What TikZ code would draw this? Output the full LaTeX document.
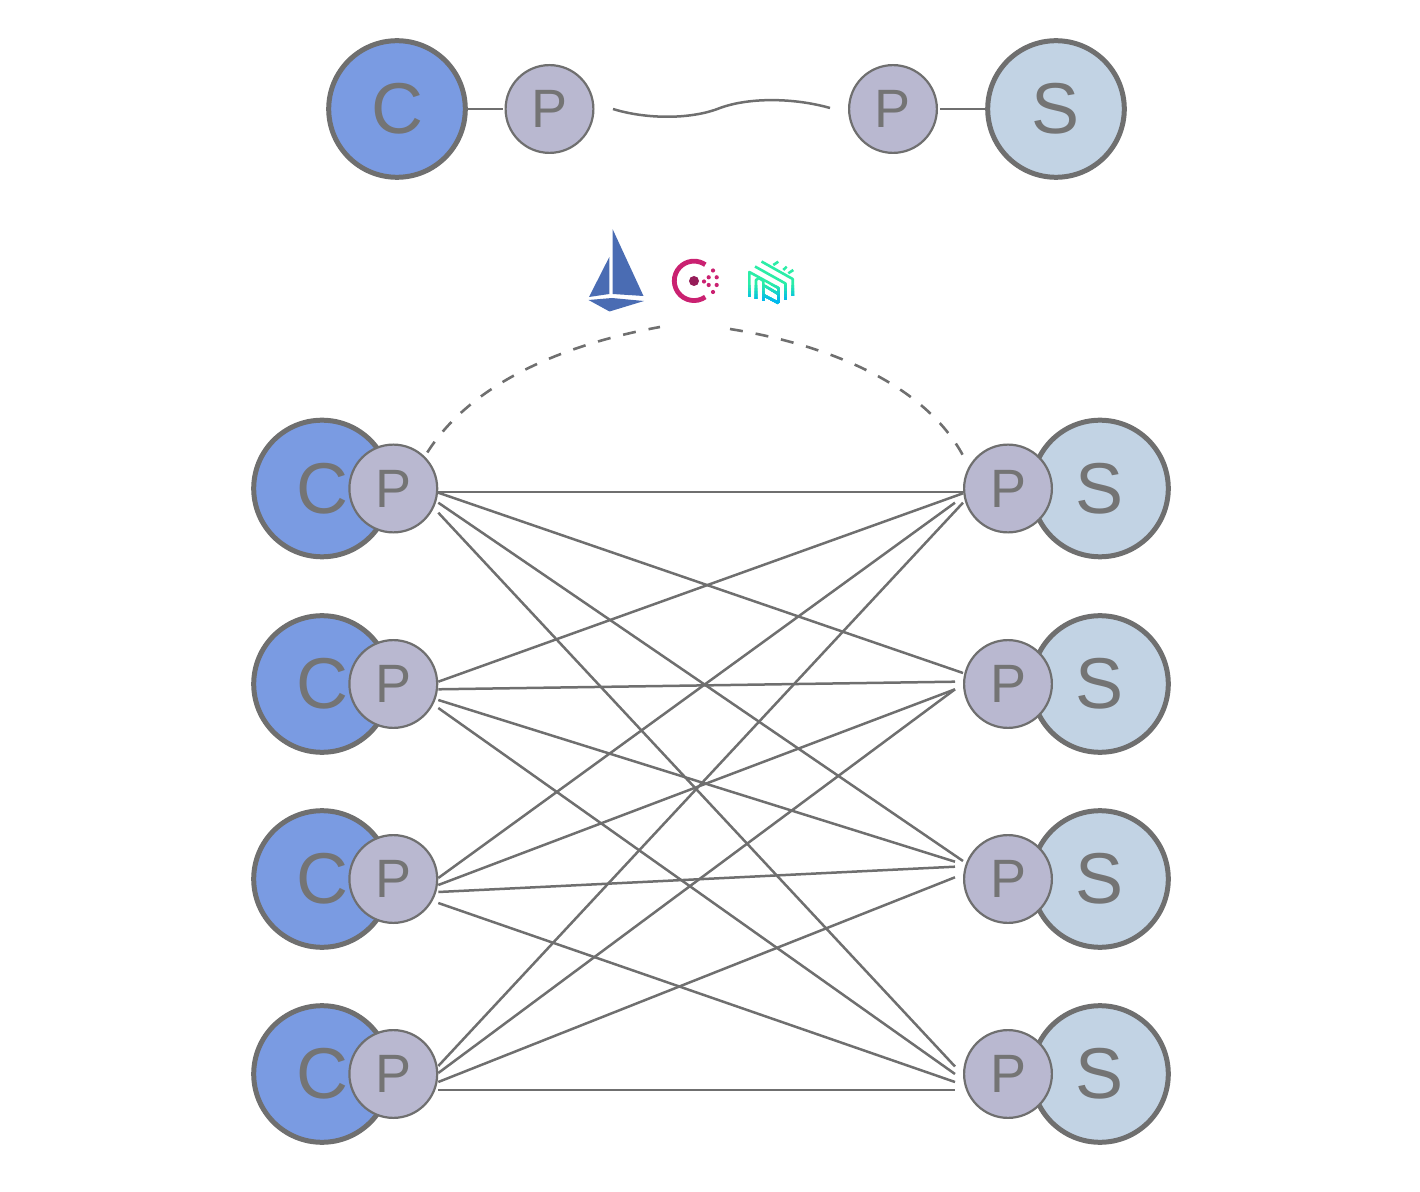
\documentclass[tikz,border=0pt]{standalone}
\usepackage{fontspec}
\setmainfont{Liberation Sans}
\definecolor{trazo}{HTML}{6F6F6F}
\definecolor{texto}{HTML}{747474}
\definecolor{azulc}{HTML}{7A9BE2}
\definecolor{azuls}{HTML}{C2D3E4}
\definecolor{lila}{HTML}{B9B8D0}
\definecolor{vela}{HTML}{4A6CB3}
\definecolor{consula}{HTML}{CA2171}
\definecolor{consulb}{HTML}{961D59}
\definecolor{verdeL}{HTML}{2BEDA7}
\definecolor{azulL}{HTML}{00B8F0}
\newcommand{\linkerdlogo}{%
  \draw (761.5,261.5) -- (792.7,279) -- (792.7,296);
  \draw (755,266.5) -- (785.5,283.5) -- (785.5,300);
  \draw (749.3,297) -- (749.3,272) -- (778.5,288) -- (778.5,303);
  \draw (756,299) -- (756,280) -- (759,278) -- (763.3,281) -- (763.3,301);
  \draw (763.3,285) -- (778.5,294);
  \draw (763.3,295) -- (778.5,303);
  \draw (773.3,265) -- (778.3,261.7);
  \draw (783.3,270) -- (786.7,266.7);
  \draw (788.3,273.3) -- (793.3,270);
}
\begin{document}
\begin{tikzpicture}[
    x=0.5pt, y=-0.5pt,
    cliente/.style={circle, draw=trazo, line width=2.5pt, fill=azulc, minimum size=68.3pt, inner sep=0pt,
      text=texto, font=\fontsize{36}{36}\selectfont},
    servidor/.style={cliente, fill=azuls},
    proxy/.style={circle, draw=trazo, line width=1.1pt, fill=lila, minimum size=43.9pt, inner sep=0pt,
      text=texto, font=\fontsize{27}{27}\selectfont},
    enlace/.style={draw=trazo, line width=1.25pt},
    discontinua/.style={enlace, line width=1.3pt, dash pattern=on 6.5pt off 6.5pt}
]
\useasboundingbox (0,0) rectangle (1420,1192);
% Fila superior
\node[cliente] (cliente) at (397,109) {C};
\node[proxy] (proxyA) at (549.5,109) {P};
\node[proxy] (proxyB) at (893,109) {P};
\node[servidor] (servidor) at (1056,109) {S};
\coordinate (curvaA) at (613,109);
\coordinate (curvaM) at (720,108);
\coordinate (curvaB) at (830,108);
\draw[enlace] ([xshift=-1pt]cliente.east) -- ([xshift=-1pt]proxyA.west);
\draw[enlace] ([xshift=1pt]proxyB.east) -- ([xshift=1pt]servidor.west);
\draw[enlace] (curvaA) .. controls (645,119) and (690,120) .. (curvaM)
  .. controls (750,97) and (795,98) .. (curvaB);
% Iconos
\fill[vela] (612.7,229.3) -- (643.5,296) -- (612.7,294) -- cycle;
\fill[vela] (609.3,257) -- (609.3,294) -- (589,297) -- cycle;
\fill[vela] (588.5,300) -- (612,298) -- (644,301) -- (609.5,311.5) -- cycle;
\draw[consula, line width=2.4pt] (705.3,297) arc[start angle=55, end angle=305, radius=19.7];
\fill[consulb] (694,281) circle[radius=5];
\foreach \px/\py in {704/281.5, 713/270.5, 708.7/277.3, 716.7/277.3, 708.7/285, 716.7/285, 713/292}
  \fill[consula] (\px,\py) circle[radius=2.1];
\begin{scope}[line width=1.3pt, line join=round]
  \foreach \franja/\mezcla in {258/100, 286/85, 289/70, 292/50, 295/30, 298/12, 301/0} {
    \begin{scope}
      \clip (740,\franja) rectangle (800,306);
      \colorlet{logo}{verdeL!\mezcla!azulL}
      \begin{scope}[color=logo]
        \linkerdlogo
      \end{scope}
    \end{scope}
  }
\end{scope}
% Filas inferiores
\foreach \fila/\cy in {1/488.5, 2/684, 3/879, 4/1074} {
  \node[cliente] (c\fila) at (322,\cy) {C};
  \node[proxy] (pl\fila) at (393.3,\cy) {P};
  \node[servidor] (s\fila) at (1100,\cy) {S};
  \node[proxy] (pr\fila) at (1008,\cy) {P};
}
% Aristas
\foreach \src/\sy/\dst/\dx/\dy in {
    1/3.3/1/-45/3.3, 1/4.2/2/-45/-11, 1/14.2/3/-45/-18, 1/24.2/4/-53/-7.5,
    2/-2.3/1/-45/4.8, 2/5.3/2/-53/-2.3, 2/16/3/-53/-17.3, 2/24/4/-53/0,
    3/-1/1/-53/14.2, 3/6/2/-53/5.3, 3/13/3/-53/-12.3, 3/24/4/-53/8,
    4/-8/1/-45/14.2, 4/-1/2/-53/5.3, 4/8/3/-53/-1.7, 4/16/4/-53/16}
  \draw[enlace] ([shift={(45,\sy)}]pl\src.center) -- ([shift={(\dx,\dy)}]pr\dst.center);
% Curvas discontinuas
\coordinate (malla1) at (660,327);
\coordinate (malla2) at (730,329);
\draw[discontinua] ([shift={(34,-36)}]pl1.center) .. controls (470,385) and (560,345) .. (malla1);
\draw[discontinua] (malla2) .. controls (830,345) and (925,385) .. ([shift={(-45,-33)}]pr1.center);
\end{tikzpicture}
\end{document}
